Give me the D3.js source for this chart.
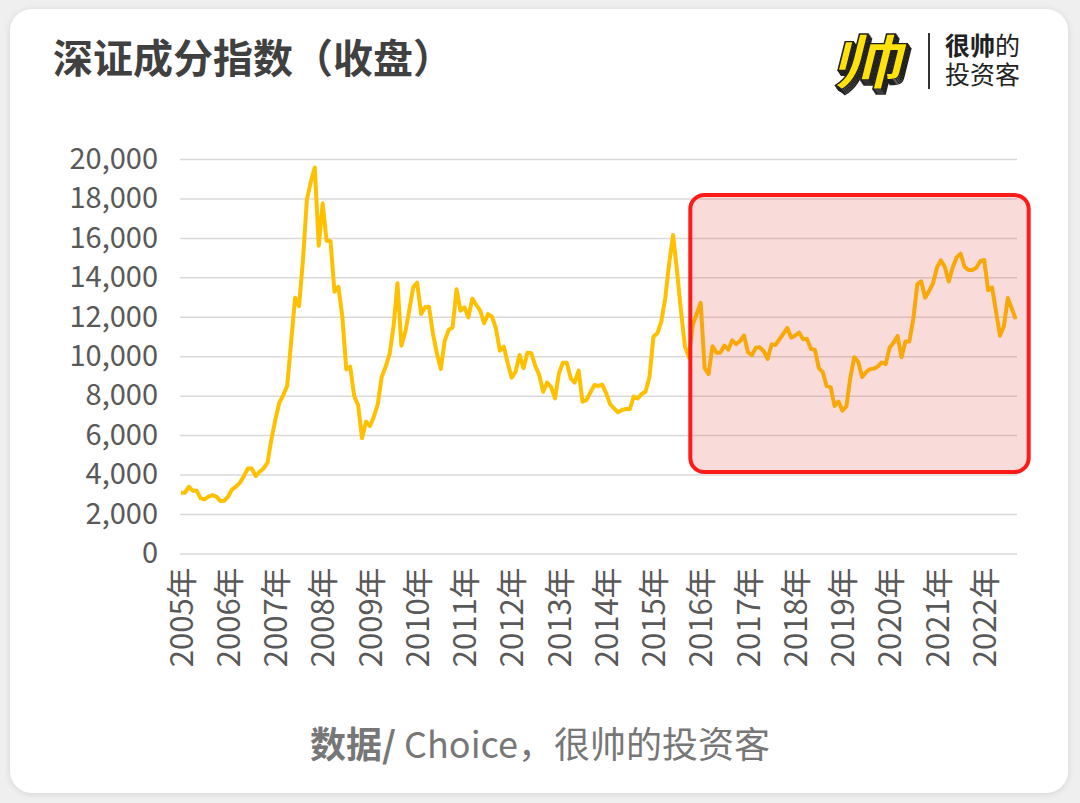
<!DOCTYPE html>
<html>
<head>
<meta charset="utf-8">
<script src="https://cdn.jsdelivr.net/npm/d3@7"></script>
<style>
  html, body { margin: 0; padding: 0; background: #efefef; }
  svg { display: block; font-family: "Noto Sans CJK SC", "Noto Sans", sans-serif; }
</style>
</head>
<body>
<div id="chart"></div>
<script>
// 深证成分指数 月度收盘, 2005-01 .. 2022-09
const startYear = 2005
const closeValues = [
  3080, 3070, 3380, 3180, 3180, 2790, 2740, 2880, 2960, 2880, 2660, 2670,
  2880, 3250, 3380, 3590, 3920, 4310, 4300, 3920, 4140, 4310, 4600, 5800,
  6800, 7640, 8030, 8500, 10740, 12960, 12540, 14870, 17950, 18850, 19570, 15600,
  17750, 15850, 15830, 13270, 13520, 12000, 9330, 9470, 7980, 7520, 5840, 6680,
  6460, 6930, 7570, 8960, 9470, 10110, 11500, 13700, 10530, 11240, 12340, 13490,
  13730, 12140, 12480, 12510, 11160, 10150, 9350, 10790, 11330, 11460, 13390, 12310,
  12480, 11970, 12920, 12600, 12310, 11670, 12130, 12000, 11410, 10280, 10480, 9640,
  8910, 9220, 10060, 9390, 10180, 10150, 9500, 9050, 8200, 8660, 8450, 7860,
  9130, 9670, 9670, 8880, 8660, 9270, 7690, 7780, 8170, 8540, 8490, 8560,
  8120, 7570, 7360, 7150, 7270, 7320, 7320, 7950, 7860, 8080, 8200, 8960,
  10990, 11160, 11750, 12940, 14710, 16150, 14300, 12300, 10500, 9940, 11600, 12150,
  12710, 9400, 9090, 10500, 10180, 10180, 10540, 10330, 10800, 10610, 10770, 11050,
  10200, 10050, 10430, 10450, 10250, 9860, 10590, 10570, 10860, 11140, 11430, 10940,
  11050, 11200, 10860, 10880, 10360, 10330, 9400, 9190, 8480, 8430, 7480, 7700,
  7240, 7450, 8900, 9950, 9720, 8940, 9190, 9340, 9370, 9480, 9680, 9600,
  10440, 10690, 11030, 9950, 10750, 10750, 11900, 13640, 13800, 12960, 13300, 13700,
  14500, 14860, 14520, 13790, 14500, 15010, 15200, 14540, 14370, 14370, 14480, 14820,
  14880, 13340, 13490, 12280, 11040, 11520, 12950, 12410, 11880
]
const yTicks = [0, 2000, 4000, 6000, 8000, 10000, 12000, 14000, 16000, 18000, 20000]
const yearLabels = ['2005年','2006年','2007年','2008年','2009年','2010年','2011年','2012年','2013年',
  '2014年','2015年','2016年','2017年','2018年','2019年','2020年','2021年','2022年']

// highlighted period (2015-11 .. end), in data units
const highlight = { from: '2015-11', to: '2022-09', lo: 4130, hi: 18170 }

const months = closeValues.map((v, i) => {
  const y = startYear + Math.floor(i / 12)
  const m = (i % 12) + 1
  return `${y}-${String(m).padStart(2, '0')}`
})
const data = months.map((m, i) => ({ month: m, value: closeValues[i] }))

const width = 1080, height = 803

const svg = d3.select('#chart').append('svg')
  .attr('width', width)
  .attr('height', height)

const defs = svg.append('defs')
const shadow = defs.append('filter').attr('id', 'shadow')
  .attr('x', '-5%').attr('y', '-5%').attr('width', '110%').attr('height', '110%')
shadow.append('feDropShadow')
  .attr('dx', 0).attr('dy', 1).attr('stdDeviation', 3)
  .attr('flood-color', '#000').attr('flood-opacity', 0.12)

svg.append('rect')
  .attr('x', 10).attr('y', 9)
  .attr('width', 1058).attr('height', 784)
  .attr('rx', 22)
  .attr('fill', '#fff')
  .attr('filter', 'url(#shadow)')

// title
svg.append('text')
  .attr('x', 53).attr('y', 73)
  .attr('font-size', 40)
  .attr('font-weight', 'bold')
  .attr('fill', '#404040')
  .text('深证成分指数（收盘）')

// logo
const logo = svg.append('g').attr('transform', 'translate(866,84)')
for (let k = 5; k >= 1; k--) {
  logo.append('text')
    .attr('x', k * 0.8).attr('y', k * 1.1)
    .attr('text-anchor', 'middle')
    .attr('font-size', 62).attr('font-weight', 'bold')
    .attr('transform', 'skewX(-14) scale(1.15,0.95)')
    .attr('fill', '#fff').attr('stroke', '#222').attr('stroke-width', 1.4)
    .text('帅')
}
logo.append('text')
  .attr('text-anchor', 'middle')
  .attr('font-size', 62).attr('font-weight', 'bold')
  .attr('transform', 'skewX(-14) scale(1.15,0.95)')
  .attr('fill', '#ffe20a').attr('stroke', '#222').attr('stroke-width', 1.4)
  .text('帅')

svg.append('line')
  .attr('x1', 929).attr('x2', 929)
  .attr('y1', 33).attr('y2', 89)
  .attr('stroke', '#333').attr('stroke-width', 2)

const brand = svg.append('text')
  .attr('x', 945).attr('y', 55)
  .attr('font-size', 25).attr('fill', '#222')
brand.append('tspan').attr('font-weight', 'bold').text('很帅')
brand.append('tspan').text('的')
svg.append('text')
  .attr('x', 945).attr('y', 84)
  .attr('font-size', 25).attr('fill', '#222')
  .text('投资客')

// scales
const x = d3.scalePoint()
  .domain(months)
  .range([180.9, 1015.7])

const y = d3.scaleLinear()
  .domain([0, 20000])
  .range([553.4, 159])

// grid + y labels
const yAxis = svg.append('g')
  .attr('transform', `translate(180,0)`)
  .call(d3.axisLeft(y)
    .tickValues(yTicks)
    .tickFormat(d3.format(','))
    .tickSize(-837)
    .tickPadding(22))

yAxis.select('.domain').remove()
yAxis.selectAll('line')
  .attr('stroke', '#d9d9d9')
  .attr('stroke-width', 1.5)
yAxis.selectAll('text')
  .attr('font-family', '"Noto Sans CJK SC", sans-serif')
  .attr('font-size', 29)
  .attr('fill', '#595959')

// x labels
const xAxis = svg.append('g')
  .attr('transform', `translate(0,553.4)`)
  .call(d3.axisBottom(x)
    .tickValues(months.filter(m => m.endsWith('-01')))
    .tickFormat(m => yearLabels[+m.slice(0, 4) - startYear])
    .tickSize(0))

xAxis.select('.domain').remove()
xAxis.selectAll('text')
  .attr('font-family', '"Noto Sans CJK SC", sans-serif')
  .attr('font-size', 31)
  .attr('fill', '#595959')
  .attr('text-anchor', 'end')
  .attr('transform', 'rotate(-90)')
  .attr('x', -14)
  .attr('y', 0)
  .attr('dy', '0.36em')

// line
const line = d3.line()
  .x(d => x(d.month))
  .y(d => y(d.value))

svg.append('path')
  .datum(data)
  .attr('d', line)
  .attr('fill', 'none')
  .attr('stroke', '#ffc000')
  .attr('stroke-width', 4)
  .attr('stroke-linejoin', 'round')

// highlighted box
const step = x.step()
const bx0 = x(highlight.from) - 2.5
const bx1 = x(highlight.to) + 3.3 * step
svg.append('rect')
  .attr('x', bx0)
  .attr('y', y(highlight.hi))
  .attr('width', bx1 - bx0)
  .attr('height', y(highlight.lo) - y(highlight.hi))
  .attr('rx', 14)
  .attr('fill', '#e03c31')
  .attr('fill-opacity', 0.18)
  .attr('stroke', '#ff1a1a')
  .attr('stroke-width', 4)

// source
const src = svg.append('text')
  .attr('x', 540).attr('y', 758)
  .attr('text-anchor', 'middle')
  .attr('font-size', 36)
  .attr('fill', '#777')
src.append('tspan').attr('font-weight', 'bold').text('数据/')
src.append('tspan').text(' Choice，很帅的投资客')
</script>
</body>
</html>
